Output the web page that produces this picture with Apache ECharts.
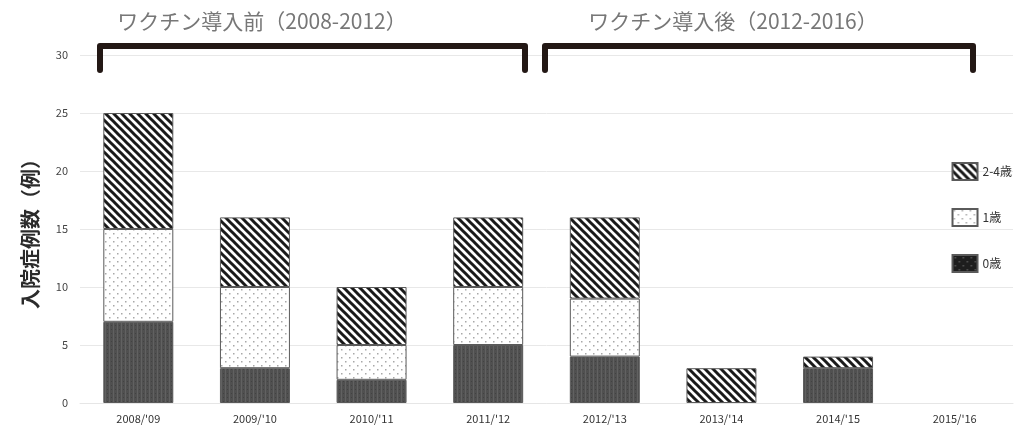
<!DOCTYPE html>
<html>
<head>
<meta charset="utf-8">
<script src="https://cdn.jsdelivr.net/npm/echarts@6/dist/echarts.min.js"></script>
<style>
  html, body { margin: 0; padding: 0; background: #fff; }
  #chart { width: 1027px; height: 431px; }
</style>
</head>
<body>
<div id="chart"></div>
<script>
// Seasons on the x axis
const seasons = ["2008/'09", "2009/'10", "2010/'11", "2011/'12", "2012/'13", "2013/'14", "2014/'15", "2015/'16"];
// Hospitalised cases by age group
const age0 = [7, 3, 2, 5, 4, 0, 3, 0];
const age1 = [8, 7, 3, 5, 5, 0, 0, 0];
const age2to4 = [10, 6, 5, 6, 7, 3, 1, 0];
const yTicks = { min: 0, max: 30, step: 5 };
const periodLabels = ['ワクチン導入前（2008-2012）', 'ワクチン導入後（2012-2016）'];

const FONT = '"Noto Sans CJK JP", "Noto Sans", sans-serif';

// Fill patterns for the stacked segments
function tile(size, draw) {
  const c = document.createElement('canvas');
  c.width = size; c.height = size;
  draw(c.getContext('2d'), size);
  return { image: c, repeat: 'repeat' };
}
const stripes = tile(8, (g, s) => {
  g.fillStyle = '#fff'; g.fillRect(0, 0, s, s);
  g.strokeStyle = '#1a1a1a'; g.lineWidth = 3;
  [-s, 0, s].forEach(c => {
    g.beginPath(); g.moveTo(-2, -2 + c); g.lineTo(s + 2, s + 2 + c); g.stroke();
  });
});
const dots = tile(8, (g, s) => {
  g.fillStyle = '#fff'; g.fillRect(0, 0, s, s);
  g.fillStyle = '#a8a8a8';
  g.fillRect(1, 1, 1.5, 1.5);
  g.fillRect(5, 5, 1.5, 1.5);
});
const dark = tile(4, (g, s) => {
  g.fillStyle = '#505050'; g.fillRect(0, 0, s, s);
  g.fillStyle = '#616161'; g.fillRect(1, 0, 1, s);
  g.fillStyle = '#424242'; g.fillRect(3, 1, 1, 1);
});
// Legend swatch for the youngest group: near-black with sparse light specks
const darkKey = tile(8, (g, s) => {
  g.fillStyle = '#1e1e1e'; g.fillRect(0, 0, s, s);
  g.fillStyle = '#5a5a5a';
  g.fillRect(2, 2, 1.5, 1.5);
  g.fillRect(6, 6, 1.5, 1.5);
});

// Empty segments are left out so no hairline is drawn for them
function barSeries(name, data, fill) {
  return {
    name, type: 'bar', stack: 'total', barWidth: '60%',
    data: data.map(v => (v === 0 ? '-' : v)),
    itemStyle: { color: fill, borderColor: '#5a5a5a', borderWidth: 1 },
    emphasis: { disabled: true }
  };
}

const chart = echarts.init(document.getElementById('chart'), null, { renderer: 'canvas' });

chart.setOption({
  animation: false,
  textStyle: { fontFamily: FONT },
  grid: { left: 80, right: 14, top: 55, bottom: 28, containLabel: false },
  legend: {
    orient: 'vertical', right: 10, top: 157,
    itemWidth: 25, itemHeight: 17, itemGap: 27,
    icon: 'rect',
    data: ['2-4歳', '1歳', { name: '0歳', itemStyle: { color: darkKey } }],
    textStyle: { fontSize: 12, color: '#333', fontFamily: FONT }
  },
  xAxis: {
    type: 'category', data: seasons,
    axisLine: { lineStyle: { color: '#e6e6e6' } },
    axisTick: { show: false },
    axisLabel: { fontSize: 11, color: '#333', margin: 10, fontFamily: FONT }
  },
  yAxis: {
    type: 'value', min: yTicks.min, max: yTicks.max, interval: yTicks.step,
    name: '入院症例数（例）', nameLocation: 'middle', nameGap: 40, nameRotate: 90,
    nameTextStyle: { fontSize: 20, color: '#2b2b2b', fontWeight: 'bold', fontFamily: FONT },
    axisLine: { show: false }, axisTick: { show: false },
    axisLabel: { fontSize: 11, color: '#444', margin: 12, fontFamily: FONT },
    splitLine: { lineStyle: { color: '#e8e8e8' } }
  },
  series: [
    barSeries('0歳', age0, dark),
    barSeries('1歳', age1, dots),
    barSeries('2-4歳', age2to4, stripes)
  ]
});

// Period brackets and their captions above the plot
const gray = '#777';
const bracket = (x1, x2) => ({
  type: 'polyline',
  shape: { points: [[x1, 70], [x1, 46], [x2, 46], [x2, 70]] },
  style: { stroke: '#231815', lineWidth: 6, fill: null, lineJoin: 'round', lineCap: 'round' }
});
chart.setOption({
  graphic: [
    bracket(100, 525),
    bracket(545, 973),
    { type: 'text', x: 262, y: 21, style: { text: periodLabels[0], font: '21px ' + FONT, fill: gray, textAlign: 'center', textVerticalAlign: 'middle' } },
    { type: 'text', x: 733, y: 21, style: { text: periodLabels[1], font: '21px ' + FONT, fill: gray, textAlign: 'center', textVerticalAlign: 'middle' } }
  ]
});
</script>
</body>
</html>
